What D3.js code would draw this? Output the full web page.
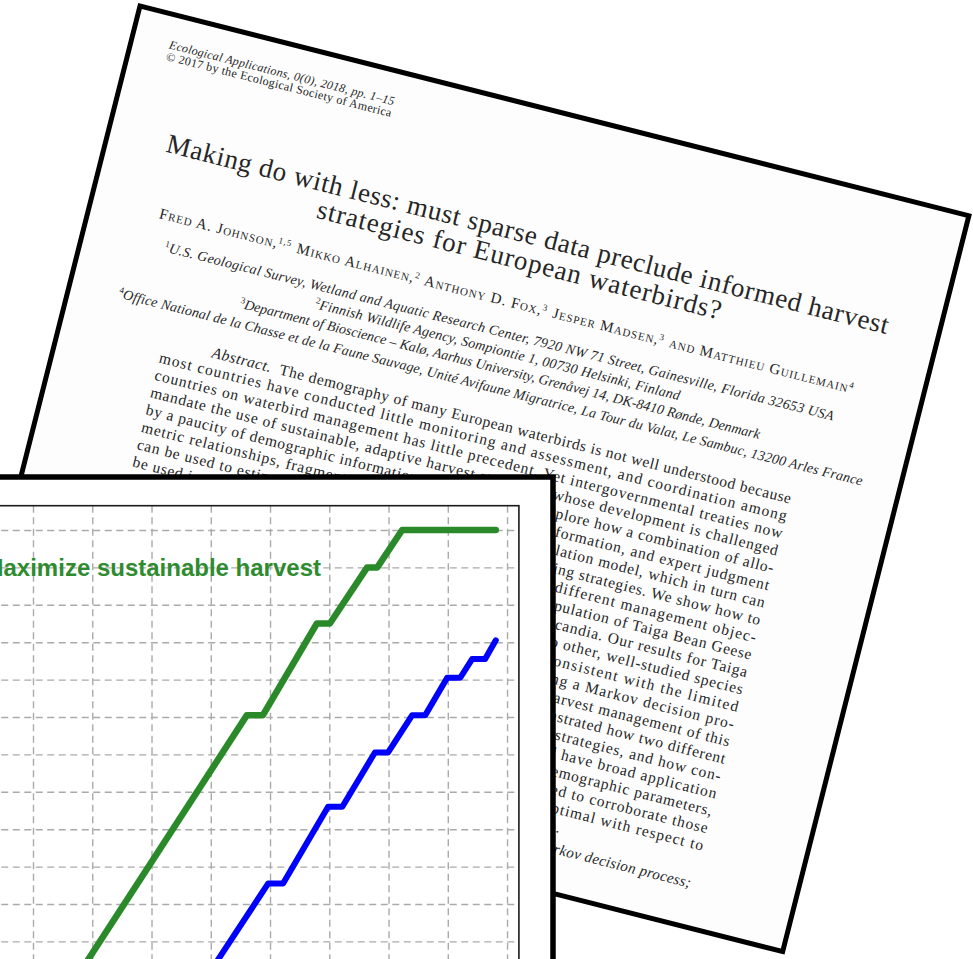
<!DOCTYPE html>
<html><head><meta charset="utf-8">
<script src="https://cdn.jsdelivr.net/npm/d3@7"></script>
<style>html,body{margin:0;padding:0;background:#fff;overflow:hidden}</style>
</head><body>
<svg id="c" width="973" height="959"></svg>
<script>
// ---------- chart data ----------
const xTicks = [10, 20, 30, 40, 50, 60, 70, 80, 90];
const yTicks = [1, 2, 3, 4, 5, 6, 7, 8, 9, 10, 11, 12];
const greenX = [17.2, 46.1, 48.8, 57.9, 60.1, 66.4, 68.1, 72.3, 88.1];
const greenY = [0, 7.05, 7.05, 9.5, 9.5, 11.0, 11.0, 12.0, 12.0];
const blueX = [39.1, 49.7, 52.2, 59.8, 62.2, 67.7, 69.9, 74.0, 76.2, 79.9, 82.1, 84.1, 86.3, 88.1];
const blueY = [0, 2.55, 2.55, 4.6, 4.6, 6.05, 6.05, 7.05, 7.05, 8.05, 8.05, 8.55, 8.55, 9.05];
const greenLabel = "Maximize sustainable harvest";

// ---------- page text ----------
const headerLines = ["Ecological Applications, 0(0), 2018, pp. 1\u201315", "\u00a9 2017 by the Ecological Society of America"];
const titleLines = ["Making do with less: must sparse data preclude informed harvest", "strategies for European waterbirds?"];
const authorParts = [["Fred A. Johnson,", "1,5"], [" Mikko Alhainen,", "2"], [" Anthony D. Fox,", "3"], [" Jesper Madsen,", "3"], [" and Matthieu Guillemain", "4"]];
const affilLines = [
  ["1", "U.S. Geological Survey, Wetland and Aquatic Research Center, 7920 NW 71 Street, Gainesville, Florida 32653 USA"],
  ["2", "Finnish Wildlife Agency, Sompiontie 1, 00730 Helsinki, Finland"],
  ["3", "Department of Bioscience \u2013 Kal\u00f8, Aarhus University, Gren\u00e5vej 14, DK-8410 R\u00f8nde, Denmark"],
  ["4", "Office National de la Chasse et de la Faune Sauvage, Unit\u00e9 Avifaune Migratrice, La Tour du Valat, Le Sambuc, 13200 Arles France"]
];
const abstractLines = [
  "The demography of many European waterbirds is not well understood because",
  "most countries have conducted little monitoring and assessment, and coordination among",
  "countries on waterbird management has little precedent. Yet intergovernmental treaties now",
  "mandate the use of sustainable, adaptive harvest strategies, whose development is challenged",
  "by a paucity of demographic information. In this study, we explore how a combination of allo-",
  "metric relationships, fragmentary monitoring and research information, and expert judgment",
  "can be used to estimate the parameters of a theta-logistic population model, which in turn can",
  "be used in a Markov decision process to derive optimal harvesting strategies. We show how to",
  "account for uncertainty about model parameters and for two different management objec-",
  "tives. The case study we use is the Central Management Unit population of Taiga Bean Geese",
  "(Anser fabalis fabalis), which breeds primarily in central Fennoscandia. Our results for Taiga",
  "Bean Geese suggest that their vital rates are reasonably similar to other, well-studied species",
  "of geese, and that the current harvest rate is probably quite consistent with the limited",
  "information available. We derived optimal harvest strategies using a Markov decision pro-",
  "cess, and in so doing we demonstrated the feasibility of informed harvest management of this",
  "population of geese despite the sparse data available. We also demonstrated how two different",
  "management objectives can lead to rather different optimal harvest strategies, and how con-",
  "sideration of parametric uncertainty can matter. Our methods should have broad application",
  "to other waterbird populations for which there are very few data on demographic parameters,",
  "although monitoring of both population size and harvest will be needed to corroborate those",
  "parameters and to ensure that the chosen harvest strategies remain optimal with respect to",
  "management objectives and the available information on the population."
];
const keywordLine = "Key words: adaptive harvest management; allometry; Anser fabalis fabalis; Markov decision process;";

const svg = d3.select("#c");
svg.append("rect").attr("width", 973).attr("height", 959).attr("fill", "#fff");

// ================= PAGE (rotated) =================
const page = svg.append("g").attr("transform", "translate(140,6) rotate(14.2)");
page.append("rect").attr("x", 0).attr("y", 0).attr("width", 855).attr("height", 759)
  .attr("fill", "#fdfdfd").attr("stroke", "#000").attr("stroke-width", 5);

const ink = "#262626";
function line(g, x, y, size, str, len, opts = {}) {
  const t = g.append("text").attr("x", x).attr("y", y)
    .attr("font-family", "'Liberation Serif','Times New Roman',serif")
    .attr("font-size", size).attr("fill", ink)
    .attr("font-style", opts.italic ? "italic" : "normal")
    .style("font-variant", opts.smallcaps ? "small-caps" : "normal");
  if (len) t.attr("textLength", len).attr("lengthAdjust", opts.adjust || "spacing");
  if (str != null) t.text(str);
  return t;
}
// header
line(page, 38, 34, 12, headerLines[0], 232, {italic: true});
line(page, 38, 46, 12, headerLines[1], 232);
// title
line(page, 60, 135, 27, titleLines[0], 744);
line(page, 222, 162, 27, titleLines[1], 416);
// authors
{
  const t = line(page, 70, 201, 15, null, 716, {smallcaps: true});
  authorParts.forEach(p => {
    t.append("tspan").text(p[0]);
    t.append("tspan").attr("dy", -5).attr("font-size", 9).style("font-variant", "normal").text(p[1]);
    t.append("tspan").attr("dy", 5).text("\u200b");
  });
}
// affiliations
const affX = [83, 243, 170, 50], affL = [690, 376, 536, 767], affY = [232, 250, 268, 288];
affilLines.forEach((a, i) => {
  const t = line(page, affX[i], affY[i], 14, null, affL[i], {italic: true});
  t.append("tspan").attr("dy", -5).attr("font-size", 9).attr("font-style", "normal").text(a[0]);
  t.append("tspan").attr("dy", 5).text(a[1]);
});
// abstract
const absL = 105, absR = 752, absTop = 323, absStep = 17.9, absIndent = 50;
abstractLines.forEach((s, i) => {
  const y = absTop + i * absStep;
  if (i === 0) {
    const t = line(page, absL + absIndent, y, 15.5, null, absR - absL - absIndent);
    t.append("tspan").attr("font-style", "italic").text("Abstract.");
    t.append("tspan").text("\u2002" + s);
  } else if (i === abstractLines.length - 1) {
    line(page, absL, y, 15.5, s, 504);
  } else {
    line(page, absL, y, 15.5, s, absR - absL);
  }
});
line(page, absL, 720, 15, keywordLine, 644, {italic: true});

// ================= CHART PANEL =================
const chart = svg.append("g");
chart.append("rect").attr("x", -20).attr("y", 477).attr("width", 573).attr("height", 560)
  .attr("fill", "#fff").attr("stroke", "#000").attr("stroke-width", 5.5);

const x = d3.scaleLinear().domain([0, 92]).range([-26.25, 518.9]);
const y = d3.scaleLinear().domain([0, 12.65]).range([978.8, 505.7]);

const plot = chart.append("g");
// grid
const gx = plot.append("g").attr("transform", `translate(0,${y(0) + 40})`)
  .call(d3.axisBottom(x).tickValues(xTicks).tickSize(-(y(0) + 40 - y(12.65))).tickFormat(""));
const gy = plot.append("g").attr("transform", `translate(${x(0) - 30},0)`)
  .call(d3.axisLeft(y).tickValues(yTicks).tickSize(-(x(92) - x(0) + 30)).tickFormat(""));
[gx, gy].forEach(g => {
  g.select(".domain").remove();
  g.selectAll(".tick line").attr("stroke", "#aaaaaa").attr("stroke-width", 1.4)
    .attr("stroke-dasharray", "7,4.5");
});
// frame
plot.append("rect").attr("x", x(0) - 30).attr("y", y(12.65)).attr("width", x(92) - x(0) + 30)
  .attr("height", 600).attr("fill", "none").attr("stroke", "#1a1a1a").attr("stroke-width", 1.6);

const lineGen = d3.line().x(d => x(d[0])).y(d => y(d[1]));
const greenData = greenX.map((v, i) => [v, greenY[i]]);
const blueData = blueX.map((v, i) => [v, blueY[i]]);
plot.append("path").datum(greenData).attr("d", lineGen).attr("fill", "none")
  .attr("stroke", "#2a8a2a").attr("stroke-width", 6.5).attr("stroke-linecap", "round").attr("stroke-linejoin", "round");
plot.append("path").datum(blueData).attr("d", lineGen).attr("fill", "none")
  .attr("stroke", "#0000ff").attr("stroke-width", 6).attr("stroke-linecap", "round").attr("stroke-linejoin", "round");

plot.append("text").attr("x", x(58.6)).attr("y", y(10.77)).attr("text-anchor", "end")
  .attr("font-family", "'Liberation Sans',Arial,Helvetica,sans-serif").attr("font-weight", "bold")
  .attr("font-size", 24).attr("fill", "#2e8b2e").text(greenLabel);
</script>
</body></html>
